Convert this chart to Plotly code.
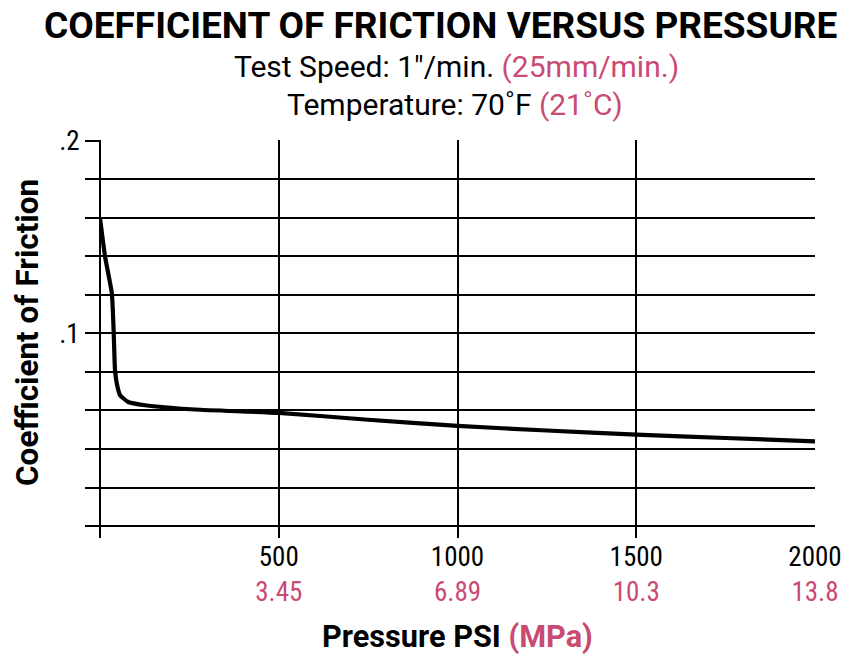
import plotly.graph_objects as go

# Data
pressure_psi = [0, 14, 33, 38, 42, 47, 56, 79, 126, 266, 500, 750, 1000, 1250, 1500, 1750, 2000]
coef_friction = [0.160, 0.140, 0.121, 0.102, 0.081, 0.074, 0.068, 0.0644, 0.0627, 0.0605,
                 0.0587, 0.0552, 0.0520, 0.0496, 0.0475, 0.0457, 0.0440]

x_tick_psi = [0, 500, 1000, 1500, 2000]
x_tick_mpa = ["", "3.45", "6.89", "10.3", "13.8"]
y_tick_vals = [0, 0.02, 0.04, 0.06, 0.08, 0.1, 0.12, 0.14, 0.16, 0.18, 0.2]
y_tick_text = ["", "", "", "", "", ".1", "", "", "", "", ".2"]

PINK = "#c94a72"
FONT = "Roboto Condensed"
FONT_WIDE = "Roboto"

x_text = []
for v, m in zip(x_tick_psi, x_tick_mpa):
    if v == 0:
        x_text.append("")
    else:
        x_text.append(f"{v}<br><span style='color:{PINK}'>{m}</span>")

W, H = 857, 658
ML, MR, MT, MB = 100, 42, 140, 120

fig = go.Figure()
fig.add_trace(go.Scatter(
    x=pressure_psi, y=coef_friction, mode="lines",
    line=dict(color="black", width=4.2, shape="spline", smoothing=0.5),
    showlegend=False, hoverinfo="skip"))

plot_h = H - MT - MB
plot_w = W - ML - MR
def py(screen_y):
    return (H - MB - screen_y) / plot_h
def px(screen_x):
    return (screen_x - ML) / plot_w

def ann(text, sx, sy, size, family, angle=0):
    return dict(text=text, x=px(sx), y=py(sy), xref="paper", yref="paper",
                xanchor="center", yanchor="middle", showarrow=False, textangle=angle,
                font=dict(size=size, family=family, color="black"))

fig.update_layout(
    width=W, height=H,
    margin=dict(l=ML, r=MR, t=MT, b=MB),
    paper_bgcolor="white", plot_bgcolor="white",
    font=dict(family=FONT, color="black"),
    xaxis=dict(range=[0, 2000], tickvals=x_tick_psi, ticktext=x_text,
               showgrid=True, gridcolor="black", gridwidth=1.5,
               zeroline=True, zerolinecolor="black", zerolinewidth=1.5,
               showline=False, ticks="",
               tickfont=dict(size=27, family=FONT, color="black")),
    yaxis=dict(range=[-0.0062, 0.2004], tickvals=y_tick_vals, ticktext=y_tick_text,
               showgrid=True, gridcolor="black", gridwidth=1.5,
               zeroline=False, showline=False,
               ticks="outside", ticklen=14, tickwidth=1.5, tickcolor="black",
               tickfont=dict(size=27, family=FONT, color="black")),
    annotations=[
        ann("<b>COEFFICIENT OF FRICTION VERSUS PRESSURE</b>", 440, 26, 37, FONT_WIDE),
        ann(f"Test Speed: 1\"/min. <span style='color:{PINK}'>(25mm/min.)</span>", 456, 67, 30, FONT_WIDE),
        ann(f"Temperature: 70˚F <span style='color:{PINK}'>(21˚C)</span>", 455, 104, 30, FONT_WIDE),
        ann(f"<b>Pressure PSI <span style='color:{PINK}'>(MPa)</span></b>", 457, 637, 30.7, FONT_WIDE),
        ann("<b>Coefficient of Friction</b>", 27, 333, 31.5, FONT_WIDE, angle=-90),
    ],
)

fig.write_html("out.html", config={"displayModeBar": False},
               post_script="document.body.style.margin='0px';")
